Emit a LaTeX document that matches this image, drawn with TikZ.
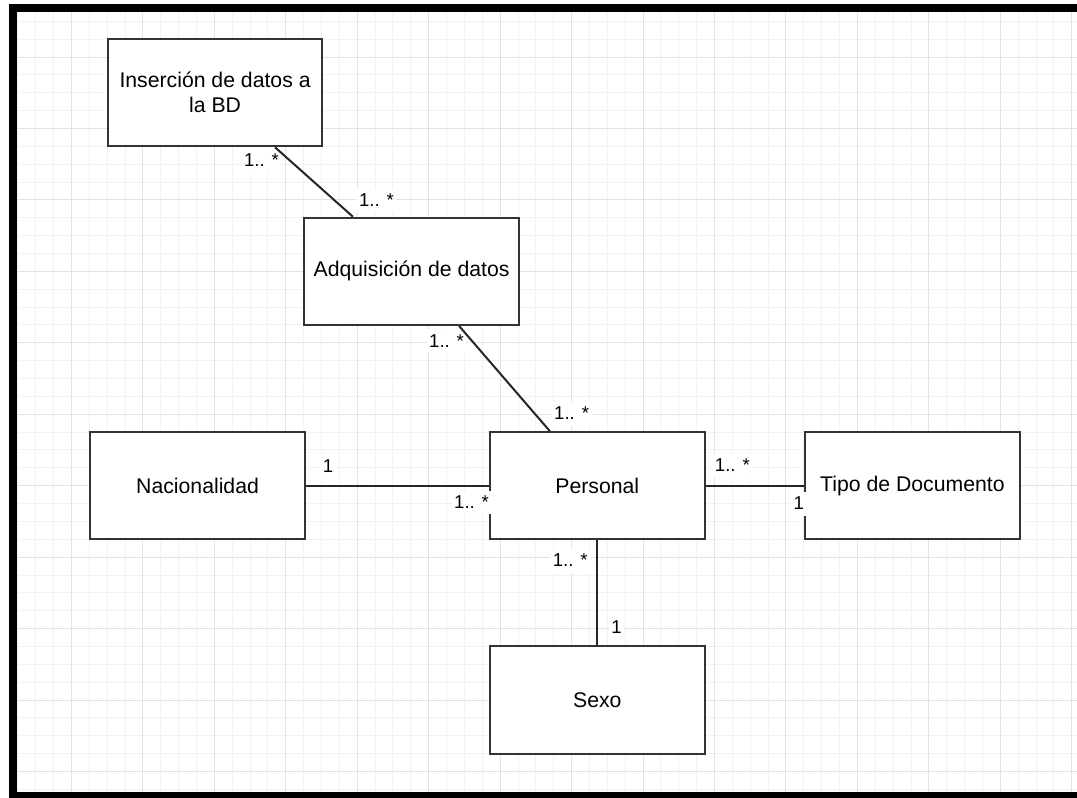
\documentclass[tikz,border=0pt]{standalone}
\usepackage{fontspec}
\setmainfont{Liberation Sans}
\definecolor{gridMinor}{HTML}{F2F2F2}
\definecolor{gridMajor}{HTML}{E2E2E2}
\definecolor{boxLine}{HTML}{333333}
\tikzset{
  entity/.style={draw=boxLine, line width=0.8pt, fill=white, minimum width=3cm,
    minimum height=1.5cm, align=center, font=\fontsize{8.45}{10}\selectfont},
  mult/.style={fill=white, inner sep=1pt, text height=6pt, text depth=1.5pt,
    font=\fontsize{7.4}{9}\selectfont},
  conn/.style={draw=black!85, line width=0.8pt},
  minorline/.style={draw=gridMinor, line width=0.4pt},
  majorline/.style={draw=gridMajor, line width=0.4pt}
}

\begin{document}
\begin{tikzpicture}[x=1cm, y=-1cm]
        \useasboundingbox (0,-0.048) rectangle (15.073,11.107);
        \clip (0,-0.048) rectangle (15.073,11.107);
        \fill[white] (0,-0.048) rectangle (15.073,11.107);
        % grid
        \foreach \i in {1,...,60} \draw[minorline] (\i/4,0.12) -- (\i/4,11.04);
        \foreach \i in {1,...,44} \draw[minorline] (0.238,\i/4) -- (15.08,\i/4);
        \foreach \i in {1,...,15} \draw[majorline] (\i,0.12) -- (\i,11.04);
        \foreach \i in {0,...,10} \draw[majorline] (0.238,\i+0.75) -- (15.08,\i+0.75);
        % frame
        \fill[black] (0.126,0.008) rectangle (15.2,0.12);
        \fill[black] (0.126,0.008) rectangle (0.238,11.2);
        \fill[black] (0.126,11.037) rectangle (15.2,11.2);
        % node
        \node[entity] (ins) at (3.01, 1.25) {Inserción de datos a\\la BD};
        \node[entity] (adq) at (5.76, 3.75) {Adquisición de datos};
        \node[entity] (nac) at (2.765, 6.75) {Nacionalidad};
        \node[entity] (per) at (8.36, 6.75) {Personal};
        \node[entity] (tipo) at (12.77, 6.75) {Tipo de Documento};
        \node[entity] (sexo) at (8.36, 9.75) {Sexo};
        % labels
        \node[mult] (insM) at (3.66, 2.21) {1.. *};
        \node[mult] (adqTopM) at (5.27, 2.76) {1.. *};
        \node[mult] (adqBotM) at (6.25, 4.73) {1.. *};
        \node[mult] (perTopM) at (8.0, 5.75) {1.. *};
        \node[mult] (nacM) at (4.59, 6.49) {1};
        \node[mult] (perLeftM) at (6.6, 6.985) {1.. *};
        \node[mult] (perRightM) at (10.25, 6.47) {1.. *};
        \node[mult] (tipoM) at (11.18, 7.0) {1};
        \node[mult] (perBotM) at (7.98, 7.8) {1.. *};
        \node[mult] (sexoM) at (8.63, 8.735) {1};
        % lines
        \draw[conn] ([xshift=0.84cm]ins.south) -- ([xshift=-0.82cm]adq.north);
        \draw[conn] ([xshift=0.665cm]adq.south) -- ([xshift=-0.665cm]per.north);
        \draw[conn] (nac.east) -- (per.west);
        \draw[conn] (per.east) -- (tipo.west);
        \draw[conn] (per.south) -- (sexo.north);
      \end{tikzpicture}
\end{document}
